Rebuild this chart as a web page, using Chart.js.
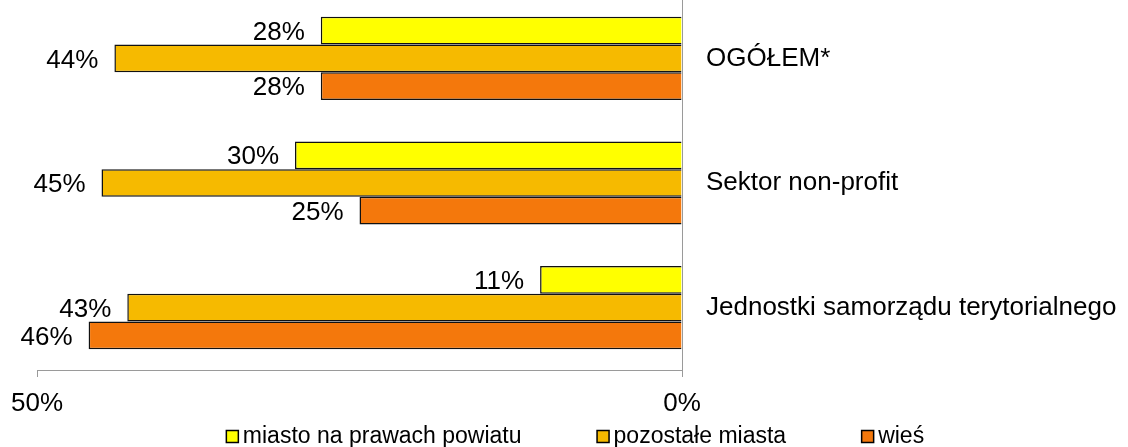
<!DOCTYPE html>
<html lang="pl">
<head>
  <meta charset="utf-8" />
  <title>Wykres</title>
  <style>
    html, body { margin: 0; padding: 0; background: #fff; overflow: hidden; }
    #wrap { position: absolute; left: 0; top: -4px; width: 1128px; height: 451px; }
  </style>
</head>
<body>
  <div id="wrap"><canvas id="chart" width="1128" height="451"></canvas></div>

  <script src="https://cdn.jsdelivr.net/npm/chart.js@4.4.4/dist/chart.umd.min.js"></script>
  <script>
    // dane
    const kategorie = ['OGÓŁEM*', 'Sektor non-profit', 'Jednostki samorządu terytorialnego'];
    const nazwySerii = ['miasto na prawach powiatu', 'pozostałe miasta', 'wieś'];
    const miastoPowiat = [28, 30, 11];
    const pozostaleMiasta = [44, 45, 43];
    const wies = [28, 25, 46];
    const osX = [0, 50];

    const kolory = ['#FFFF00', '#F6BA00', '#F4780C'];
    const FONT = "'Liberation Sans', Arial, sans-serif";

    // etykiety wartości po lewej stronie słupków
    const etykiety = {
      id: 'etykiety',
      afterDatasetsDraw(chart) {
        const ctx = chart.ctx;
        ctx.save();
        ctx.font = '26px ' + FONT;
        ctx.fillStyle = '#000';
        ctx.textAlign = 'right';
        ctx.textBaseline = 'middle';
        chart.data.datasets.forEach((ds, i) => {
          chart.getDatasetMeta(i).data.forEach((bar, j) => {
            ctx.fillText(ds.data[j] + '%', bar.x - 16, bar.y + 2);
          });
        });
        ctx.restore();
      }
    };

    // legenda na dole
    const legenda = {
      id: 'legenda',
      afterDraw(chart) {
        const ctx = chart.ctx;
        ctx.save();
        ctx.font = '23px ' + FONT;
        const box = 13, gap = 4, odstep = 75;
        const szer = nazwySerii.map(n => box + gap + ctx.measureText(n).width);
        const suma = szer.reduce((a, b) => a + b, 0) + odstep * (szer.length - 1);
        let x = 575 - suma / 2;
        const base = 447;
        nazwySerii.forEach((n, i) => {
          ctx.fillStyle = kolory[i];
          ctx.fillRect(x + 0.5, base - box + 0.5, box - 1, box - 1);
          ctx.strokeStyle = '#000';
          ctx.lineWidth = 1.5;
          ctx.strokeRect(x + 0.5, base - box + 0.5, box - 1, box - 1);
          ctx.fillStyle = '#000';
          ctx.textAlign = 'left';
          ctx.textBaseline = 'alphabetic';
          ctx.fillText(n, x + box + gap, base);
          x += szer[i] + odstep;
        });
        ctx.restore();
      }
    };

    const serie = [miastoPowiat, pozostaleMiasta, wies];

    new Chart(document.getElementById('chart'), {
      type: 'bar',
      data: {
        labels: kategorie,
        datasets: serie.map((d, i) => ({
          label: nazwySerii[i],
          data: d,
          backgroundColor: kolory[i],
          borderColor: '#111',
          borderWidth: 1.5,
          categoryPercentage: 0.667,
          barPercentage: 1.0
        }))
      },
      options: {
        indexAxis: 'y',
        responsive: false,
        animation: false,
        layout: { padding: { left: 37, right: 0, top: 0, bottom: 31 } },
        plugins: {
          legend: { display: false },
          tooltip: { enabled: false }
        },
        scales: {
          x: {
            type: 'linear',
            reverse: true,
            min: osX[0],
            max: osX[1],
            afterBuildTicks: s => { s.ticks = osX.map(v => ({ value: v })); },
            afterFit: s => { s.height = 46; },
            ticks: {
              callback: v => v + '%',
              color: '#000',
              font: { size: 26, family: FONT },
              padding: 11,
              maxRotation: 0
            },
            grid: { display: true, drawOnChartArea: false, drawTicks: true, tickLength: 7, color: '#9a9a9a' },
            border: { display: true, color: '#9a9a9a' }
          },
          y: {
            position: 'right',
            afterFit: s => { s.width = 446; s.paddingTop = 0; s.paddingBottom = 0; },
            ticks: {
              color: '#000',
              font: { size: 26, family: FONT },
              padding: 24
            },
            grid: { display: false, drawTicks: false },
            border: { display: true, color: '#9a9a9a' }
          }
        }
      },
      plugins: [etykiety, legenda]
    });
  </script>
</body>
</html>
